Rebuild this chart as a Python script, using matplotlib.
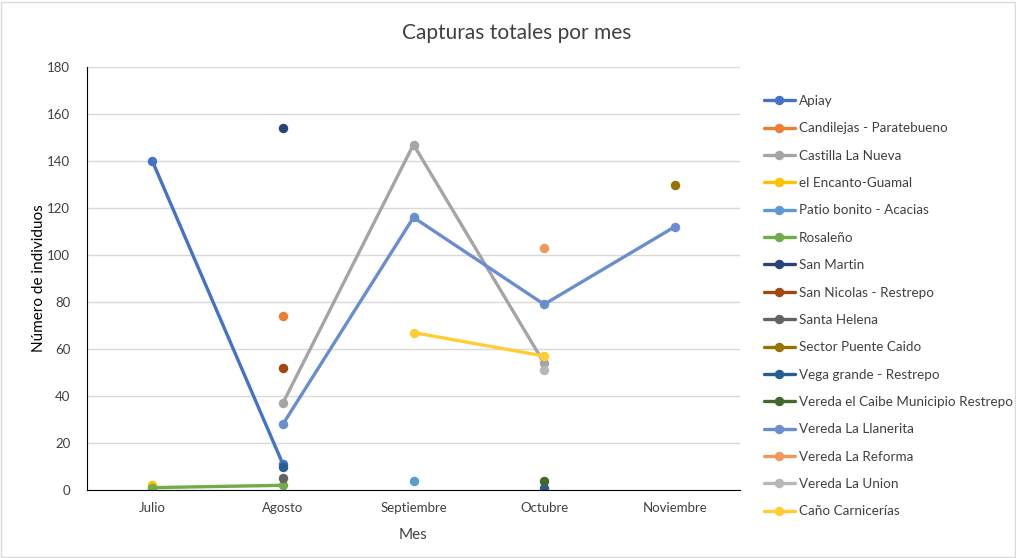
import numpy as np
import matplotlib.pyplot as plt
from matplotlib.patches import Rectangle

plt.rcParams['font.family'] = ['Lato', 'DejaVu Sans']

meses = ["Julio", "Agosto", "Septiembre", "Octubre", "Noviembre"]
nan = np.nan

# capturas por localidad (nan = sin muestreo ese mes)
apiay = [140, 11, nan, nan, nan]
candilejas = [nan, 74, nan, nan, nan]
castilla = [nan, 37, 147, 54, nan]
encanto = [2, nan, nan, nan, nan]
patio_bonito = [nan, nan, 4, nan, nan]
rosaleno = [1, 2, nan, nan, nan]
san_martin = [nan, 154, nan, nan, nan]
san_nicolas = [nan, 52, nan, nan, nan]
santa_helena = [nan, 5, nan, nan, nan]
puente_caido = [nan, nan, nan, nan, 130]
vega_grande = [nan, 10, nan, 1, nan]
el_caibe = [nan, nan, nan, 4, nan]
llanerita = [nan, 28, 116, 79, 112]
la_reforma = [nan, nan, nan, 103, nan]
la_union = [nan, nan, nan, 51, nan]
carnicerias = [nan, nan, 67, 57, nan]

series = [
    ("Apiay", apiay, "#4472C4"),
    ("Candilejas - Paratebueno", candilejas, "#ED7D31"),
    ("Castilla La Nueva", castilla, "#A5A5A5"),
    ("el Encanto-Guamal", encanto, "#FFC000"),
    ("Patio bonito - Acacias", patio_bonito, "#5B9BD5"),
    ("Rosaleño", rosaleno, "#70AD47"),
    ("San Martin", san_martin, "#264478"),
    ("San Nicolas - Restrepo", san_nicolas, "#9E480E"),
    ("Santa Helena", santa_helena, "#636363"),
    ("Sector Puente Caido", puente_caido, "#997300"),
    ("Vega grande - Restrepo", vega_grande, "#255E91"),
    ("Vereda el Caibe Municipio Restrepo", el_caibe, "#43682B"),
    ("Vereda La Llanerita", llanerita, "#698ED0"),
    ("Vereda La Reforma", la_reforma, "#F1975A"),
    ("Vereda La Union", la_union, "#B7B7B7"),
    ("Caño Carnicerías", carnicerias, "#FFCD33"),
]

fig = plt.figure(figsize=(10.16, 5.58), dpi=100)
ax = fig.add_axes([87 / 1016, 1 - 490 / 558, 653 / 1016, 423 / 558])

x = np.arange(len(meses))
for nombre, vals, color in series:
    ax.plot(x, vals, color=color, lw=2.4, marker="o", markersize=5.8,
            label=nombre, solid_capstyle="round")

ax.set_xlim(-0.5, 4.5)
ax.set_ylim(0, 180)
ax.set_yticks(np.arange(0, 181, 20))
ax.set_xticks(x)
ax.set_xticklabels(meses)
ax.grid(axis="y", color="#D9D9D9", lw=1)
ax.set_axisbelow(True)
for s in ["top", "right"]:
    ax.spines[s].set_visible(False)
ax.spines["left"].set_color("black")
ax.spines["bottom"].set_color("black")
ax.tick_params(length=0, labelsize=9.5, colors="#404040", pad=9)
ax.tick_params(axis="y", pad=12)

ax.set_xlabel("Mes", fontsize=11, color="#404040", labelpad=10)
ax.set_ylabel("Número de individuos", fontsize=11, color="black", labelpad=1)
fig.text(517 / 1016, 1 - 33 / 558, "Capturas totales por mes", ha="center",
         va="center", fontsize=15, color="#404040")

ax.legend(loc="upper left", bbox_to_anchor=(764 / 1016, 1 - 95 / 558),
          bbox_transform=fig.transFigure, frameon=False, fontsize=9.7,
          handlelength=2.3, handletextpad=0.3, labelspacing=1.14,
          labelcolor="#404040", borderaxespad=0, borderpad=0)

fig.patches.append(Rectangle((1 / 1016, 1 / 558), 1014 / 1016, 555 / 558,
                             transform=fig.transFigure, fill=False,
                             edgecolor="#D9D9D9", lw=1))

plt.savefig("out.png", dpi=100)
